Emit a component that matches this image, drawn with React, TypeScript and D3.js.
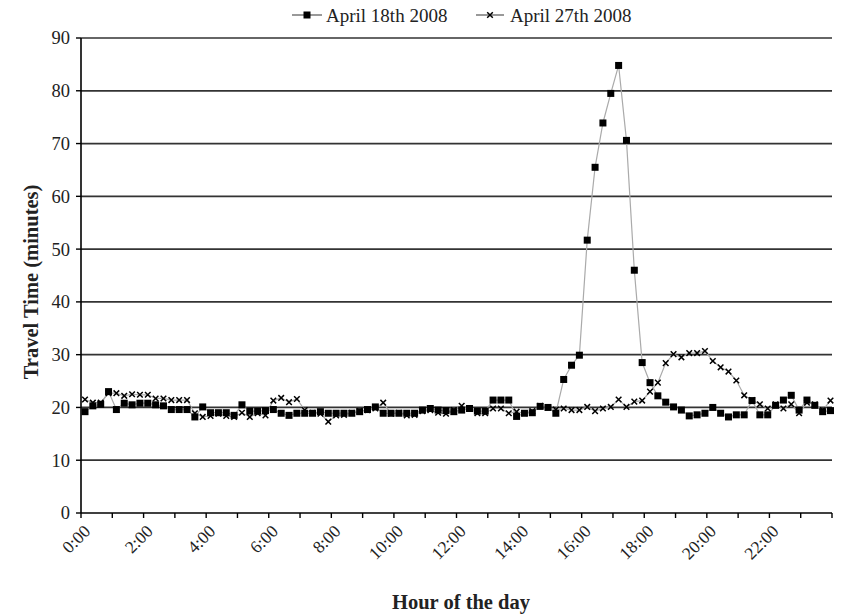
import React from "react";
import * as d3 from "d3";

const apr18: number[] = [
  19.2, 20.3, 20.6, 23.0, 19.6, 20.8, 20.5, 20.8, 20.8, 20.5, 20.3, 19.6,
  19.6, 19.6, 18.2, 20.1, 19.0, 19.0, 19.0, 18.5, 20.5, 19.3, 19.3, 19.4,
  19.6, 18.9, 18.5, 18.9, 18.9, 18.9, 19.2, 18.9, 18.9, 18.9, 18.9, 19.2,
  19.6, 20.1, 18.9, 18.9, 18.9, 18.9, 18.9, 19.5, 19.8, 19.5, 19.4, 19.2,
  19.5, 19.8, 19.3, 19.3, 21.4, 21.4, 21.4, 18.3, 18.9, 19.0, 20.2, 20.0,
  18.9, 25.3, 28.0, 29.9, 51.7, 65.5, 73.9, 79.5, 84.8, 70.6, 46.0, 28.5,
  24.7, 22.2, 21.0, 20.1, 19.5, 18.4, 18.6, 18.9, 20.0, 18.9, 18.2, 18.6,
  18.6, 21.3, 18.6, 18.6, 20.4, 21.4, 22.3, 19.5, 21.4, 20.4, 19.2, 19.4,
];

const apr27: number[] = [
  21.5, 20.9, 20.9, 22.7, 22.7, 22.2, 22.5, 22.4, 22.4, 21.7, 21.7, 21.4,
  21.4, 21.4, 18.9, 18.2, 18.4, 18.8, 18.4, 18.2, 19.0, 18.2, 18.9, 18.5,
  21.3, 21.8, 21.0, 21.6, 19.5, 19.0, 18.8, 17.3, 18.5, 18.6, 19.0, 19.3,
  19.5, 19.8, 20.9, 18.8, 19.0, 18.5, 18.6, 19.3, 19.5, 19.0, 18.8, 19.5,
  20.3, 19.8, 18.9, 18.9, 19.8, 19.8, 18.9, 19.2, 18.9, 19.3, 20.3, 20.0,
  19.6, 19.8, 19.5, 19.5, 20.1, 19.3, 19.8, 20.1, 21.5, 20.1, 21.1, 21.3,
  23.0, 24.7, 28.4, 30.1, 29.5, 30.3, 30.3, 30.7, 28.8, 27.6, 26.8, 25.1,
  22.3, 21.4, 20.6, 19.8, 20.6, 19.8, 20.6, 18.9, 20.9, 20.6, 19.5, 21.3,
];

const seriesNames: string[] = ["April 18th 2008", "April 27th 2008"];
const yTicks: number[] = [0, 10, 20, 30, 40, 50, 60, 70, 80, 90];
const hourTicks: number[] = d3.range(0, 25);
const hourLabels: string[] = [
  "0:00", "2:00", "4:00", "6:00", "8:00", "10:00",
  "12:00", "14:00", "16:00", "18:00", "20:00", "22:00",
];

const W = 848;
const H = 614;
const left = 81;
const right = 832;
const top = 38;
const bottom = 513;
const font = "'Liberation Serif', 'Times New Roman', serif";

export default function App() {
  const y = d3.scaleLinear().domain([0, 90]).range([bottom, top]);
  const xh = d3.scaleLinear().domain([0, 24]).range([left, right]);
  // 96 samples, one every 15 minutes
  const xi = d3.scaleLinear().domain([0, apr18.length - 1]).range([85, 830.5]);

  const line = d3
    .line<number>()
    .x((_, i) => xi(i))
    .y((d) => y(d));

  const square = (cx: number, cy: number, k: string | number) => (
    <rect key={k} x={cx - 3.5} y={cy - 3.5} width={7} height={7} fill="#000" />
  );
  const cross = (cx: number, cy: number, k: string | number) => (
    <path
      key={k}
      d={`M${cx - 2.8},${cy - 2.8}L${cx + 2.8},${cy + 2.8}M${cx - 2.8},${cy + 2.8}L${cx + 2.8},${cy - 2.8}`}
      stroke="#000"
      strokeWidth={1.5}
    />
  );

  return (
    <svg width={W} height={H} style={{ position: "absolute", left: 0, top: 0, background: "#fff" }}>
      <rect x={0} y={0} width={W} height={H} fill="#fff" />
      {/* gridlines */}
      {yTicks.filter((t) => t > 0).map((t) => (
        <line key={t} x1={left} x2={right} y1={y(t)} y2={y(t)} stroke="#333" strokeWidth={1.7} />
      ))}
      {/* y axis */}
      <line x1={left} x2={left} y1={top} y2={bottom} stroke="#000" strokeWidth={1.6} />
      {yTicks.map((t) => (
        <g key={t}>
          <line x1={left - 5} x2={left} y1={y(t)} y2={y(t)} stroke="#000" strokeWidth={1.4} />
          <text x={left - 11} y={y(t)} dy="0.35em" textAnchor="end" fontFamily={font} fontSize={18.5} fill="#222">
            {t}
          </text>
        </g>
      ))}
      {/* x axis */}
      <line x1={left} x2={right} y1={bottom} y2={bottom} stroke="#000" strokeWidth={1.6} />
      {hourTicks.map((h) => (
        <line key={h} x1={xh(h)} x2={xh(h)} y1={bottom} y2={bottom + 5} stroke="#000" strokeWidth={1.4} />
      ))}
      {hourLabels.map((lab, k) => {
        const px = xh(k * 2) + 6;
        const py = bottom + 15;
        return (
          <text
            key={lab}
            transform={`translate(${px},${py}) rotate(-45)`}
            textAnchor="end"
            dy="0.35em"
            fontFamily={font}
            fontSize={17.5}
            fill="#222"
          >
            {lab}
          </text>
        );
      })}
      {/* lines */}
      <path d={line(apr18) || ""} fill="none" stroke="#aaa" strokeWidth={1.2} />
      <path d={line(apr27) || ""} fill="none" stroke="#aaa" strokeWidth={1.2} />
      {apr27.map((v, i) => cross(xi(i), y(v), "c" + i))}
      {apr18.map((v, i) => square(xi(i), y(v), "s" + i))}
      {/* axis titles */}
      <text
        transform={`translate(38,282) rotate(-90)`}
        textAnchor="middle"
        fontFamily={font}
        fontWeight="bold"
        fontSize={20.5}
        fill="#222"
      >
        Travel Time (minutes)
      </text>
      <text x={461} y={609} textAnchor="middle" fontFamily={font} fontWeight="bold" fontSize={20.5} fill="#222">
        Hour of the day
      </text>
      {/* legend */}
      <g>
        <line x1={292} x2={322} y1={15} y2={15} stroke="#555" strokeWidth={1.2} />
        {square(307, 15, "l1")}
        <text x={326} y={15} dy="0.35em" fontFamily={font} fontSize={19} fill="#222">
          {seriesNames[0]}
        </text>
        <line x1={476} x2={504} y1={15} y2={15} stroke="#555" strokeWidth={1.2} />
        {cross(490, 15, "l2")}
        <text x={510} y={15} dy="0.35em" fontFamily={font} fontSize={19} fill="#222">
          {seriesNames[1]}
        </text>
      </g>
    </svg>
  );
}
